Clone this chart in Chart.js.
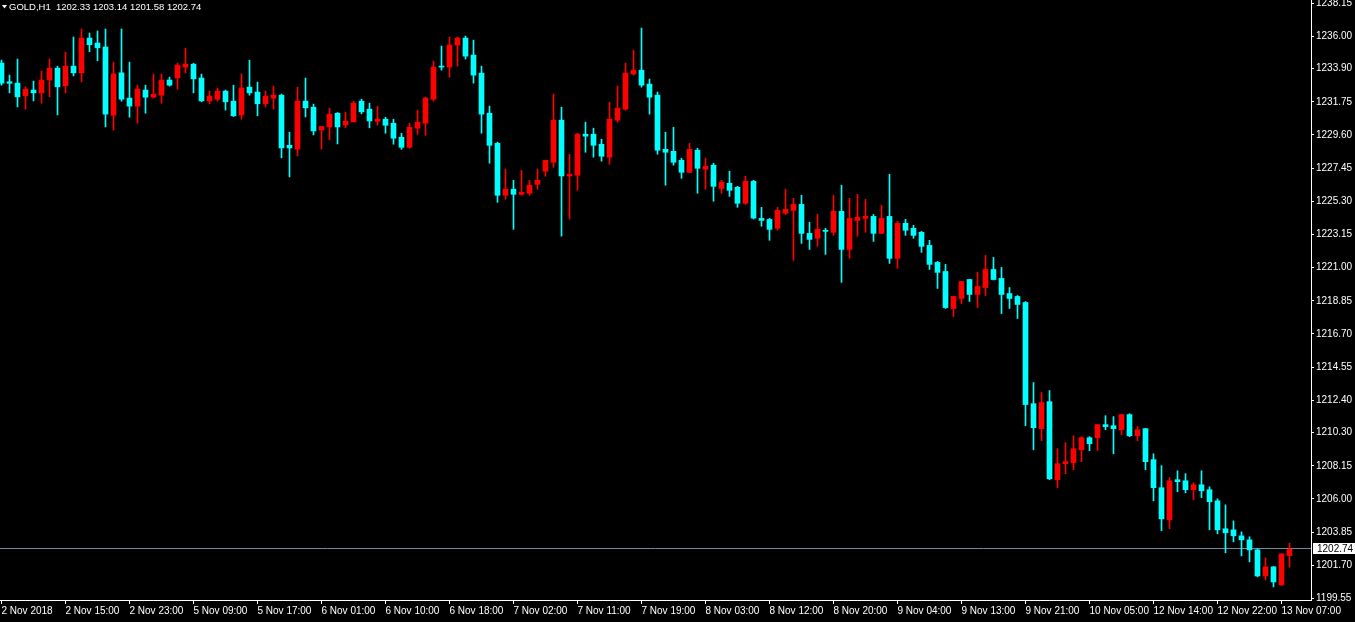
<!DOCTYPE html>
<html>
<head>
<meta charset="utf-8">
<title>GOLD,H1</title>
<script src="https://cdn.jsdelivr.net/npm/chart.js@4.4.1/dist/chart.umd.min.js"></script>
<style>
  html, body { margin: 0; padding: 0; background: #000; }
  #wrap { width: 1355px; height: 622px; }
</style>
</head>
<body>
<div id="wrap"><canvas id="goldChart" width="1355" height="622"></canvas></div>
<script>
// Hourly candles, GOLD H1, 2 Nov 2018 07:00 .. 13 Nov 2018 08:00
const symbol = "GOLD,H1";

const opens = [
  1234.26, 1233.05, 1232.96, 1232.14, 1232.51, 1232.33, 1233.16, 1233.93, 1232.79, 1234.06,
  1233.63, 1235.88, 1235.56, 1235.30, 1230.88, 1233.63, 1231.99, 1231.47, 1232.51, 1232.05,
  1232.18, 1233.16, 1233.30, 1234.00, 1234.19, 1233.29, 1231.81, 1231.92, 1232.44, 1231.79,
  1230.90, 1232.70, 1232.38, 1231.62, 1231.99, 1232.18, 1228.93, 1228.69, 1231.79, 1231.40,
  1229.93, 1230.12, 1231.01, 1230.25, 1230.45, 1231.79, 1231.27, 1230.49, 1230.62, 1230.36,
  1229.45, 1228.80, 1230.04, 1230.36, 1231.92, 1234.06, 1234.00, 1235.43, 1235.88, 1234.78,
  1233.61, 1231.01, 1229.06, 1225.69, 1226.08, 1225.75, 1225.82, 1226.40, 1227.25, 1227.83,
  1230.56, 1226.94, 1226.99, 1229.65, 1229.65, 1229.00, 1228.16, 1230.56, 1231.27, 1233.55,
  1233.80, 1232.90, 1232.18, 1228.67, 1228.54, 1227.96, 1227.18, 1228.61, 1227.38, 1227.64,
  1226.14, 1226.47, 1226.21, 1225.17, 1226.60, 1224.19, 1224.12, 1223.55, 1224.52, 1224.71,
  1225.10, 1223.22, 1222.90, 1223.42, 1223.29, 1224.65, 1222.18, 1224.06, 1224.19, 1224.32,
  1223.22, 1224.32, 1221.60, 1223.87, 1223.55, 1223.29, 1222.44, 1221.34, 1220.75, 1218.35,
  1219.00, 1220.23, 1219.26, 1219.71, 1220.88, 1220.30, 1219.32, 1219.13, 1218.74, 1212.18,
  1210.56, 1212.31, 1207.25, 1208.29, 1208.35, 1209.19, 1209.97, 1209.97, 1210.82, 1210.75,
  1210.49, 1211.47, 1210.10, 1210.56, 1208.55, 1206.73, 1204.65, 1207.25, 1207.18, 1206.60,
  1206.92, 1206.60, 1205.88, 1204.07, 1204.00, 1203.61, 1203.35, 1202.70, 1201.01, 1201.60,
  1200.43, 1202.33
];

const highs = [
  1234.45, 1233.48, 1234.52, 1232.72, 1233.09, 1233.74, 1234.52, 1234.06, 1234.97, 1235.95,
  1236.47, 1236.21, 1236.34, 1236.47, 1234.32, 1236.47, 1234.32, 1232.83, 1232.83, 1233.55,
  1233.55, 1233.35, 1234.26, 1235.23, 1234.25, 1233.55, 1232.44, 1232.64, 1232.51, 1232.83,
  1233.56, 1234.45, 1233.03, 1232.44, 1232.77, 1232.25, 1229.78, 1232.70, 1233.29, 1231.60,
  1230.15, 1231.34, 1231.05, 1231.08, 1231.79, 1231.92, 1231.66, 1231.47, 1230.75, 1230.62,
  1229.71, 1230.36, 1231.21, 1232.05, 1234.39, 1235.36, 1235.95, 1235.95, 1236.01, 1235.75,
  1234.06, 1231.47, 1229.13, 1227.38, 1226.66, 1227.31, 1226.66, 1227.38, 1227.96, 1232.25,
  1231.40, 1228.35, 1229.71, 1230.43, 1230.04, 1229.32, 1231.73, 1232.77, 1234.26, 1235.10,
  1236.53, 1233.22, 1232.38, 1229.78, 1230.10, 1228.09, 1229.06, 1228.74, 1228.09, 1227.77,
  1226.66, 1227.25, 1226.27, 1226.92, 1226.66, 1224.91, 1224.19, 1224.91, 1226.08, 1225.49,
  1225.69, 1223.94, 1224.45, 1223.55, 1225.69, 1226.34, 1225.49, 1225.75, 1225.43, 1224.45,
  1225.04, 1227.05, 1224.00, 1224.13, 1223.74, 1223.35, 1222.77, 1221.40, 1221.21, 1219.13,
  1220.10, 1220.23, 1220.69, 1221.79, 1221.66, 1221.01, 1219.71, 1219.19, 1218.80, 1213.55,
  1212.90, 1213.03, 1209.26, 1209.65, 1210.10, 1210.04, 1210.04, 1210.82, 1211.40, 1211.34,
  1211.50, 1211.53, 1210.69, 1210.58, 1208.93, 1208.16, 1207.38, 1207.83, 1207.64, 1207.05,
  1207.83, 1206.79, 1206.01, 1205.62, 1204.58, 1203.87, 1203.55, 1202.77, 1202.18, 1201.62,
  1202.44, 1203.14
];

const lows = [
  1232.83, 1232.33, 1231.42, 1231.27, 1231.81, 1231.66, 1232.07, 1230.90, 1232.33, 1233.43,
  1233.05, 1235.00, 1234.41, 1230.12, 1229.91, 1231.79, 1230.75, 1230.36, 1231.01, 1231.99,
  1231.66, 1232.77, 1232.57, 1233.61, 1232.33, 1231.75, 1231.62, 1231.79, 1231.21, 1230.80,
  1230.62, 1232.18, 1230.84, 1231.42, 1231.27, 1228.11, 1226.88, 1228.24, 1230.77, 1229.60,
  1228.69, 1229.28, 1229.02, 1230.06, 1230.45, 1230.97, 1230.06, 1230.23, 1229.71, 1229.00,
  1228.67, 1228.74, 1229.65, 1229.58, 1231.79, 1233.80, 1233.35, 1234.06, 1234.52, 1232.96,
  1229.71, 1227.77, 1225.23, 1225.43, 1223.48, 1225.69, 1225.69, 1226.08, 1226.92, 1227.51,
  1223.04, 1224.15, 1226.01, 1228.48, 1228.16, 1227.90, 1227.70, 1230.43, 1231.20, 1233.48,
  1232.70, 1230.95, 1228.35, 1226.34, 1227.64, 1226.79, 1227.15, 1225.82, 1226.08, 1225.30,
  1225.82, 1225.62, 1224.91, 1225.10, 1224.15, 1223.68, 1222.77, 1223.42, 1224.45, 1221.47,
  1222.57, 1222.18, 1222.38, 1221.86, 1223.09, 1220.04, 1221.60, 1223.03, 1223.29, 1222.70,
  1223.20, 1221.27, 1220.95, 1223.09, 1222.90, 1221.99, 1220.88, 1219.65, 1218.35, 1217.83,
  1218.67, 1218.80, 1218.41, 1219.19, 1220.20, 1218.02, 1218.35, 1217.70, 1210.75, 1209.19,
  1209.78, 1207.25, 1206.73, 1207.64, 1207.90, 1208.42, 1209.13, 1209.13, 1210.49, 1208.93,
  1210.17, 1210.04, 1209.78, 1207.90, 1205.88, 1203.94, 1204.07, 1206.47, 1206.40, 1205.95,
  1206.08, 1204.00, 1203.74, 1202.51, 1203.22, 1202.31, 1201.92, 1200.95, 1200.75, 1200.30,
  1200.40, 1201.58
];

const closes = [
  1232.96, 1232.95, 1232.07, 1232.57, 1232.33, 1233.16, 1233.93, 1232.72, 1234.06, 1233.63,
  1235.88, 1235.45, 1235.25, 1230.95, 1233.56, 1231.92, 1231.47, 1232.57, 1232.05, 1232.25,
  1233.16, 1232.83, 1234.13, 1234.19, 1233.24, 1231.81, 1232.12, 1232.44, 1231.75, 1230.84,
  1232.64, 1232.33, 1231.62, 1232.12, 1232.18, 1228.76, 1228.76, 1231.79, 1231.36, 1229.86,
  1230.15, 1230.95, 1230.12, 1230.49, 1231.66, 1231.10, 1230.51, 1230.62, 1230.23, 1229.39,
  1228.80, 1230.10, 1230.43, 1231.99, 1234.00, 1234.00, 1235.43, 1235.88, 1234.71, 1233.48,
  1230.95, 1228.93, 1225.69, 1226.08, 1225.75, 1225.88, 1226.34, 1226.66, 1227.96, 1230.56,
  1226.94, 1227.05, 1229.65, 1229.52, 1228.93, 1228.22, 1230.62, 1231.34, 1233.61, 1233.80,
  1232.83, 1232.05, 1228.61, 1228.48, 1227.83, 1227.18, 1228.67, 1227.44, 1227.57, 1226.27,
  1226.53, 1226.01, 1225.17, 1226.60, 1224.21, 1224.06, 1223.48, 1224.71, 1224.78, 1225.10,
  1223.22, 1222.83, 1223.48, 1223.35, 1224.65, 1222.18, 1224.19, 1224.26, 1224.32, 1223.22,
  1224.19, 1221.60, 1223.87, 1223.42, 1223.09, 1222.38, 1221.21, 1220.69, 1218.41, 1219.13,
  1220.10, 1219.26, 1219.78, 1220.88, 1220.23, 1219.26, 1219.00, 1218.61, 1212.12, 1210.62,
  1212.25, 1207.31, 1208.29, 1208.42, 1209.26, 1209.97, 1209.58, 1210.82, 1210.69, 1210.56,
  1211.47, 1210.10, 1210.49, 1208.42, 1206.73, 1204.71, 1207.18, 1207.12, 1206.60, 1206.92,
  1206.53, 1205.82, 1204.00, 1203.81, 1203.61, 1203.35, 1202.70, 1201.01, 1201.60, 1200.62,
  1202.44, 1202.74
];

// time axis labels, one every 8 bars
const xLabels = [
  "2 Nov 2018", "2 Nov 15:00", "2 Nov 23:00", "5 Nov 09:00", "5 Nov 17:00",
  "6 Nov 01:00", "6 Nov 10:00", "6 Nov 18:00", "7 Nov 02:00", "7 Nov 11:00",
  "7 Nov 19:00", "8 Nov 03:00", "8 Nov 12:00", "8 Nov 20:00", "9 Nov 04:00",
  "9 Nov 13:00", "9 Nov 21:00", "10 Nov 05:00", "12 Nov 14:00", "12 Nov 22:00",
  "13 Nov 07:00"
];
const labelStep = 8;

// price axis labels
const yTicks = [
  1238.15, 1236.00, 1233.90, 1231.75, 1229.60, 1227.45, 1225.30, 1223.15, 1221.00, 1218.85,
  1216.70, 1214.55, 1212.40, 1210.30, 1208.15, 1206.00, 1203.85, 1201.70, 1199.55
];

const UP = "#ff0000";
const DOWN = "#00ffff";
const FONT = "Liberation Sans";

const idx = opens.map((_, i) => i);
const colors = idx.map(i => closes[i] >= opens[i] ? UP : DOWN);
const wickData = idx.map(i => ({ x: i, y: [lows[i], highs[i]] }));
const bodyData = idx.map(i => ({ x: i, y: [opens[i], closes[i]] }));

// MT4 style overlays: bid line, price tag and the top-left header
const overlay = {
  id: "overlay",
  beforeDatasetsDraw(chart) {
    const { ctx, chartArea, scales } = chart;
    const py = Math.round(scales.y.getPixelForValue(closes[closes.length - 1])) - 0.5;
    ctx.save();
    ctx.strokeStyle = "#778899";
    ctx.lineWidth = 1;
    ctx.beginPath();
    ctx.moveTo(chartArea.left, py);
    ctx.lineTo(chartArea.right, py);
    ctx.stroke();
    ctx.restore();
  },
  afterDraw(chart) {
    const { ctx, chartArea, scales } = chart;
    const last = closes.length - 1;
    const py = Math.round(scales.y.getPixelForValue(closes[last])) - 1;
    ctx.save();
    ctx.fillStyle = "#ffffff";
    ctx.fillRect(chartArea.right + 2, py - 5, chart.width - chartArea.right - 2, 11);
    ctx.fillStyle = "#000000";
    ctx.font = "10px '" + FONT + "'";
    ctx.textBaseline = "middle";
    ctx.textAlign = "left";
    ctx.fillText(closes[last].toFixed(2), chartArea.right + 6, py + 1);

    // header
    ctx.fillStyle = "#ffffff";
    ctx.beginPath();
    ctx.moveTo(2, 5);
    ctx.lineTo(7, 5);
    ctx.lineTo(4.5, 8.5);
    ctx.closePath();
    ctx.fill();
    ctx.font = "9.5px '" + FONT + "'";
    const head = symbol + "  " + [opens[last], highs[last], lows[last], closes[last]]
      .map(v => v.toFixed(2)).join(" ");
    ctx.fillText(head, 9, 7);
    ctx.restore();
  }
};

new Chart(document.getElementById("goldChart"), {
  type: "bar",
  data: {
    datasets: [
      {
        label: "wick",
        data: wickData,
        backgroundColor: colors,
        barThickness: 1,
        grouped: false,
        order: 2
      },
      {
        label: "body",
        data: bodyData,
        backgroundColor: colors,
        barThickness: 5,
        minBarLength: 1,
        grouped: false,
        order: 1
      }
    ]
  },
  options: {
    responsive: false,
    animation: false,
    layout: { padding: 0 },
    plugins: {
      legend: { display: false },
      tooltip: { enabled: false }
    },
    scales: {
      x: {
        type: "linear",
        offset: false,
        min: -0.1875,
        max: 163.6875,
        border: { display: true, color: "#ffffff", width: 1 },
        grid: { offset: false, drawOnChartArea: false, drawTicks: true, tickLength: 4, color: "#ffffff" },
        ticks: {
          autoSkip: false,
          maxRotation: 0,
          minRotation: 0,
          align: "start",
          padding: 1,
          color: "#ffffff",
          font: { family: FONT, size: 10 },
          callback: (v, i) => xLabels[i]
        },
        afterBuildTicks: s => { s.ticks = xLabels.map((_, k) => ({ value: k * labelStep })); },
        afterFit: s => { s.height = 22; s.paddingLeft = 0; s.paddingRight = 0; }
      },
      y: {
        position: "right",
        min: 1199.45,
        max: 1238.35,
        border: { display: true, color: "#ffffff", width: 1 },
        grid: { drawOnChartArea: false, drawTicks: true, tickLength: 3, color: "#ffffff" },
        ticks: {
          autoSkip: false,
          padding: 2,
          color: "#ffffff",
          font: { family: FONT, size: 10 },
          callback: v => v.toFixed(2)
        },
        afterBuildTicks: s => { s.ticks = yTicks.map(v => ({ value: v })); },
        afterFit: s => { s.width = 44; s.paddingTop = 0; s.paddingBottom = 0; }
      }
    }
  },
  plugins: [overlay]
});
</script>
</body>
</html>
